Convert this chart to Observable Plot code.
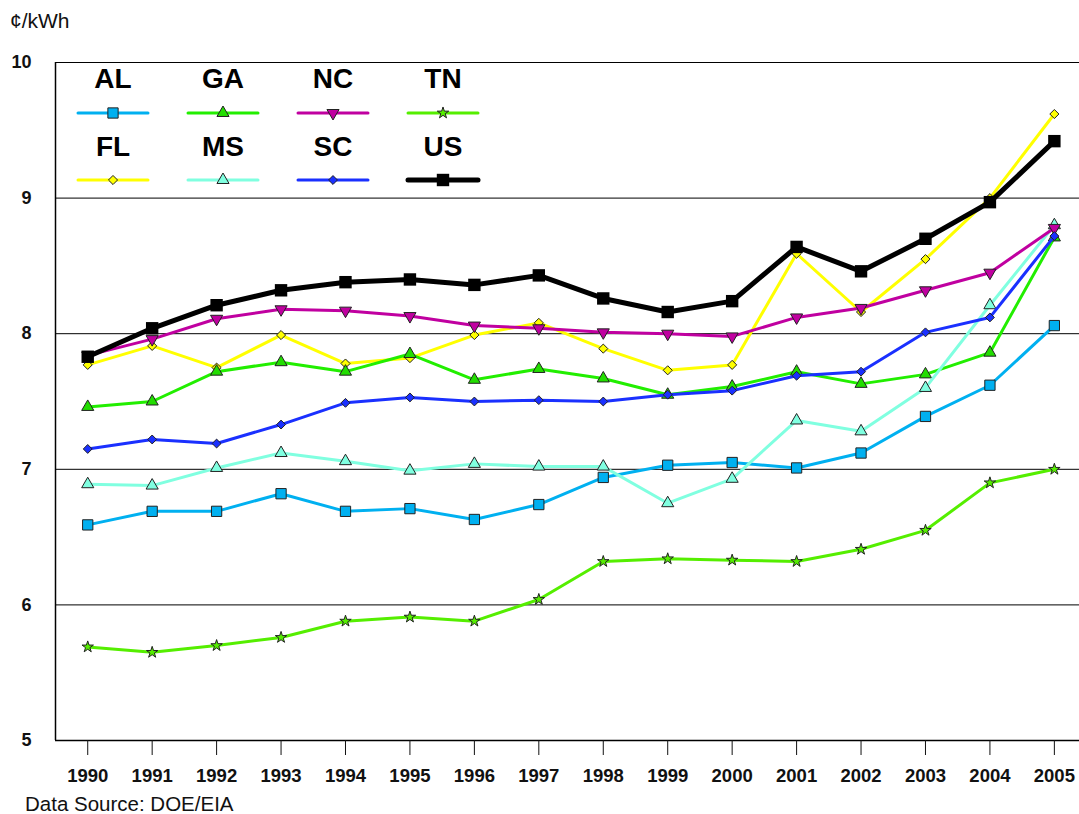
<!DOCTYPE html>
<html><head><meta charset="utf-8">
<script src="https://cdn.jsdelivr.net/npm/d3@7"></script>
<script src="https://cdn.jsdelivr.net/npm/@observablehq/plot@0.6"></script>
<style>
body{margin:0;background:#fff;font-family:"Liberation Sans",Arial,sans-serif;}
#wrap{position:relative;width:1079px;height:814px;overflow:hidden;}
#unit{height:40px;line-height:42px;padding-left:10px;font-size:21px;color:#111;}
#source{height:24px;line-height:24px;padding-top:2px;padding-left:25px;font-size:20.5px;color:#111;}
#legend{position:absolute;left:0;top:0;}
</style></head><body>
<div id="wrap">
<div id="unit">¢/kWh</div>
<div id="chart"></div>
<div id="source">Data Source: DOE/EIA</div>
<svg id="legend" width="520" height="200"></svg>
</div>
<script>
const years = [1990,1991,1992,1993,1994,1995,1996,1997,1998,1999,2000,2001,2002,2003,2004,2005];
const yTicks = [5,6,7,8,9,10];
const gridValues = [6,7,8,9,10];
const AL = [6.59,6.69,6.69,6.82,6.69,6.71,6.63,6.74,6.94,7.03,7.05,7.01,7.12,7.39,7.62,8.06];
const FL = [7.77,7.91,7.75,7.99,7.78,7.82,7.99,8.08,7.89,7.73,7.77,8.59,8.16,8.55,9.00,9.62];
const GA = [7.46,7.50,7.72,7.79,7.72,7.85,7.66,7.74,7.67,7.55,7.61,7.72,7.63,7.70,7.86,8.71];
const MS = [6.89,6.88,7.01,7.12,7.06,6.99,7.04,7.02,7.02,6.75,6.93,7.36,7.28,7.60,8.21,8.80];
const NC = [7.84,7.96,8.11,8.18,8.17,8.13,8.06,8.04,8.01,8.00,7.98,8.12,8.19,8.32,8.45,8.78];
const SC = [7.15,7.22,7.19,7.33,7.49,7.53,7.50,7.51,7.50,7.55,7.58,7.69,7.72,8.01,8.12,8.72];
const TN = [5.69,5.65,5.70,5.76,5.88,5.91,5.88,6.04,6.32,6.34,6.33,6.32,6.41,6.55,6.90,7.00];
const US = [7.83,8.04,8.21,8.32,8.38,8.40,8.36,8.43,8.26,8.16,8.24,8.64,8.46,8.70,8.97,9.42];

const seriesValues = {AL, FL, GA, MS, NC, SC, TN, US};
// drawing order
const drawOrder = ["AL","FL","GA","MS","NC","SC","TN","US"];
// legend layout order (rows)
const legendRows = [["AL","GA","NC","TN"],["FL","MS","SC","US"]];

const styles = {
  AL:{line:"#00b0f0", fill:"#00b0f0", symbol:"square",   r:5.8, w:3, rotate:0},
  FL:{line:"#ffff00", fill:"#ffff00", symbol:"diamond2", r:4.1, w:3, rotate:0},
  GA:{line:"#22ee00", fill:"#22dd00", symbol:"triangle", r:4.5, w:3, rotate:0},
  MS:{line:"#80ffe0", fill:"#80ffe0", symbol:"triangle", r:4.5, w:3, rotate:0},
  NC:{line:"#c000a0", fill:"#c000a0", symbol:"triangle", r:4.5, w:3, rotate:180},
  SC:{line:"#1a30ff", fill:"#1a30ff", symbol:"diamond2", r:4.0, w:3, rotate:0},
  TN:{line:"#55ee00", fill:"#55ee00", symbol:"star",     r:3.6, w:3, rotate:0},
  US:{line:"#000000", fill:"#000000", symbol:"square",   r:7.0, w:5, rotate:0}
};

const rows = drawOrder.flatMap(name => years.map((year, i) => ({state:name, year, value:seriesValues[name][i]})));

const marks = [
  Plot.ruleY(gridValues, {stroke:"#000", strokeWidth:1}),
  Plot.ruleY([5], {stroke:"#000", strokeWidth:1.5}),
  Plot.ruleX([1989.5], {stroke:"#000", strokeWidth:1.5}),
  Plot.axisY({ticks:yTicks, tickFormat:d => String(d), tickSize:0, tickPadding:24, label:null, fontSize:18, fontWeight:"bold"}),
  Plot.axisX({ticks:years, tickFormat:d => String(d), tickSize:15, tickPadding:13, label:null, fontSize:18.5, fontWeight:"bold"})
];
for (const name of drawOrder) {
  const s = styles[name];
  const d = rows.filter(r => r.state === name);
  marks.push(Plot.line(d, {x:"year", y:"value", stroke:s.line, strokeWidth:s.w}));
  marks.push(Plot.dot(d, {x:"year", y:"value", symbol:s.symbol, r:s.r, fill:s.fill,
    stroke: name === "US" ? "#000" : "#222", strokeWidth: name === "US" ? 0 : 1, rotate:s.rotate}));
}

const chart = Plot.plot({
  width:1079, height:750,
  marginTop:22, marginBottom:50, marginLeft:55, marginRight:0,
  style:{fontFamily:"Liberation Sans, Arial, sans-serif", fontSize:"18px", fontWeight:"bold", color:"#111", background:"#fff"},
  x:{type:"linear", domain:[1989.5, 2005.39]},
  y:{domain:[5,10]},
  marks
});
document.getElementById("chart").appendChild(chart);

// legend overlay
const symMap = {square:d3.symbolSquare, diamond2:d3.symbolDiamond2, triangle:d3.symbolTriangle, star:d3.symbolStar};
const lg = d3.select("#legend");
const colCenters = [113, 223, 333, 443];
const labelY = [78, 146];
const swatchY = [113, 180];
legendRows.forEach((row, ri) => {
  row.forEach((name, ci) => {
    const s = styles[name];
    const cx = colCenters[ci];
    lg.append("text").attr("x", cx).attr("y", labelY[ri]).attr("dy", "0.36em")
      .attr("text-anchor", "middle").attr("font-size", 28).attr("font-weight", "bold")
      .attr("font-family", "Liberation Sans, Arial, sans-serif").attr("fill", "#000").text(name);
    lg.append("line").attr("x1", cx - 35).attr("x2", cx + 35).attr("y1", swatchY[ri]).attr("y2", swatchY[ri])
      .attr("stroke", s.line).attr("stroke-width", s.w).attr("stroke-linecap", "round");
    lg.append("path").attr("d", d3.symbol(symMap[s.symbol], s.r * s.r * Math.PI)())
      .attr("transform", `translate(${cx},${swatchY[ri]}) rotate(${s.rotate})`)
      .attr("fill", s.fill).attr("stroke", name === "US" ? "none" : "#222").attr("stroke-width", 1);
  });
});
</script>
</body></html>
